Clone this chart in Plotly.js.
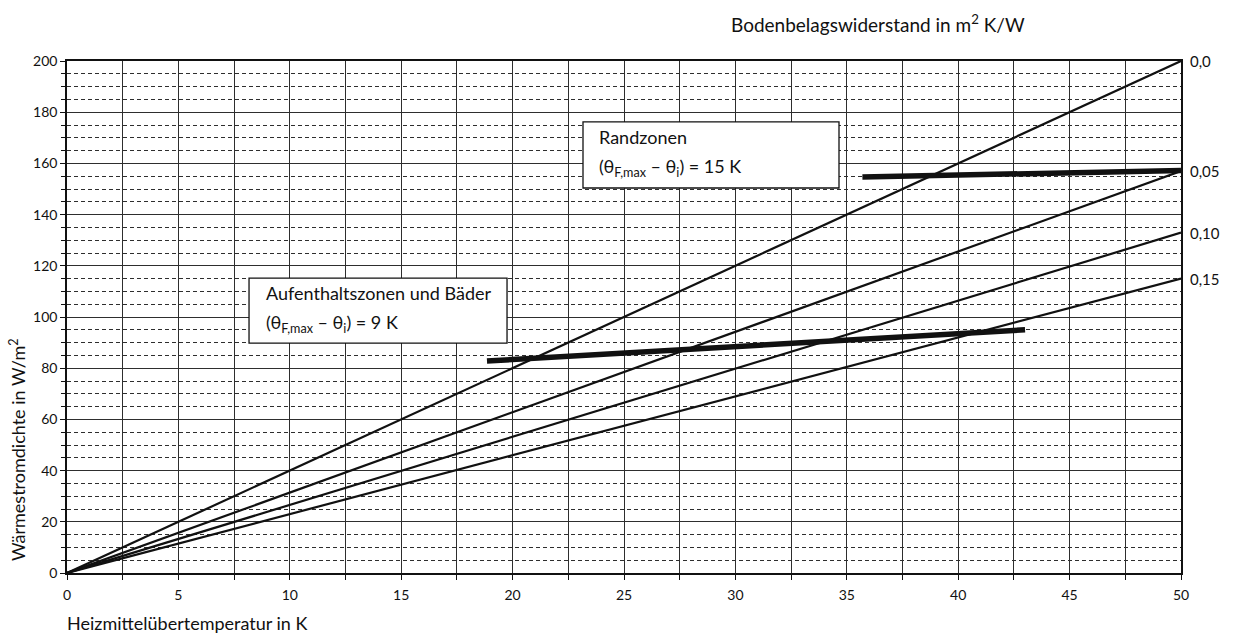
<!DOCTYPE html>
<html>
<head>
<meta charset="utf-8">
<script src="https://cdn.plot.ly/plotly-3.0.1.min.js"></script>
<style>
  html, body { margin: 0; padding: 0; background: #fff; }
  #chart { width: 1234px; height: 638px; }
</style>
</head>
<body>
<div id="chart"></div>
<script>
// Heizmittelübertemperatur (K) – Endpunkte der Kennlinien
const tempX = [0, 50];
// Bodenbelagswiderstand in m² K/W
const resistances = ["0,0", "0,05", "0,10", "0,15"];
// Wärmestromdichte (W/m²) bei 0 K und bei 50 K
const qAt0 = [0, 0, 0, 0];
const qAt50 = [200, 157, 133, 115];

// Grenzkurven
const randX = [35.7, 50];
const randY = [154.7, 157.2];
const aufX = [18.85, 43];
const aufY = [82.8, 95.0];

const FONT = "Lato, 'Open Sans', 'DejaVu Sans', sans-serif";
const INK = "#111";

const traces = resistances.map((r, i) => ({
  type: "scatter",
  mode: "lines",
  x: tempX,
  y: [qAt0[i], qAt50[i]],
  line: { color: INK, width: 2.2 },
  hoverinfo: "skip",
  showlegend: false
}));

traces.push({
  type: "scatter", mode: "lines", x: randX, y: randY,
  line: { color: INK, width: 5.5 }, showlegend: false, hoverinfo: "skip"
});
traces.push({
  type: "scatter", mode: "lines", x: aufX, y: aufY,
  line: { color: INK, width: 5.5 }, showlegend: false, hoverinfo: "skip"
});

const annotations = [];
resistances.forEach((r, i) => {
  annotations.push({
    x: tempX[1], y: qAt50[i], xref: "x", yref: "y",
    text: r, showarrow: false, xanchor: "left", yanchor: "middle", xshift: 7,
    font: { family: FONT, size: 15, color: INK }
  });
});

// Achsentitel
annotations.push({
  xref: "paper", yref: "paper", x: -0.044, y: 0.242,
  text: "Wärmestromdichte in W/m<sup>2</sup>", textangle: -90,
  showarrow: false, xanchor: "center", yanchor: "middle",
  font: { family: FONT, size: 18, color: INK }
});
annotations.push({
  xref: "paper", yref: "paper", x: -0.002, y: -0.098,
  text: "Heizmittelübertemperatur in K",
  showarrow: false, xanchor: "left", yanchor: "middle",
  font: { family: FONT, size: 18, color: INK }
});
annotations.push({
  xref: "paper", yref: "paper", x: 0.594, y: 1.074,
  text: "Bodenbelagswiderstand in m<sup>2</sup> K/W",
  showarrow: false, xanchor: "left", yanchor: "middle",
  font: { family: FONT, size: 19, color: INK }
});

// Beschriftungen in Kästen
annotations.push({
  x: 23.8, y: 170.5, xref: "x", yref: "y", text: "Randzonen",
  showarrow: false, xanchor: "left", yanchor: "middle",
  font: { family: FONT, size: 18, color: INK }
});
annotations.push({
  x: 23.8, y: 158.5, xref: "x", yref: "y",
  text: "(θ<sub>F,max</sub> – θ<sub>i</sub>) = 15 K",
  showarrow: false, xanchor: "left", yanchor: "middle",
  font: { family: FONT, size: 18, color: INK }
});
annotations.push({
  x: 8.85, y: 109.5, xref: "x", yref: "y", text: "Aufenthaltszonen und Bäder",
  showarrow: false, xanchor: "left", yanchor: "middle",
  font: { family: FONT, size: 18, color: INK }
});
annotations.push({
  x: 8.85, y: 97.5, xref: "x", yref: "y",
  text: "(θ<sub>F,max</sub> – θ<sub>i</sub>) = 9 K",
  showarrow: false, xanchor: "left", yanchor: "middle",
  font: { family: FONT, size: 18, color: INK }
});

const shapes = [
  { type: "rect", xref: "x", yref: "y", x0: 23.16, x1: 34.65, y0: 150.4, y1: 176.2,
    fillcolor: "#fff", line: { color: INK, width: 1.3 }, layer: "above" },
  { type: "rect", xref: "x", yref: "y", x0: 8.17, x1: 19.75, y0: 89.8, y1: 115.2,
    fillcolor: "#fff", line: { color: INK, width: 1.3 }, layer: "above" }
];

const GRID = "#2e2e2e";
const layout = {
  width: 1234, height: 638,
  margin: { l: 67, r: 53, t: 61, b: 65, pad: 0 },
  paper_bgcolor: "#fff", plot_bgcolor: "#fff",
  font: { family: FONT, size: 14, color: INK },
  showlegend: false,
  xaxis: {
    range: [0, 50], tick0: 0, dtick: 5, ticks: "outside", ticklen: 5, tickcolor: INK,
    showgrid: true, gridcolor: GRID, gridwidth: 1,
    minor: { dtick: 2.5, ticks: "outside", ticklen: 5, tickcolor: INK,
             showgrid: true, gridcolor: GRID, gridwidth: 1 },
    showline: true, mirror: true, linecolor: INK, linewidth: 1.5,
    zeroline: false, fixedrange: true, ticklabelstandoff: 3,
    tickfont: { family: FONT, size: 14, color: INK }
  },
  yaxis: {
    range: [0, 200], tick0: 0, dtick: 20, ticks: "outside", ticklen: 5, tickcolor: INK,
    showgrid: true, gridcolor: GRID, gridwidth: 1,
    minor: { dtick: 5, ticks: "outside", ticklen: 4, tickcolor: INK,
             showgrid: true, gridcolor: GRID, gridwidth: 1, griddash: "4px,3px" },
    showline: true, mirror: true, linecolor: INK, linewidth: 1.5,
    zeroline: false, fixedrange: true,
    tickfont: { family: FONT, size: 14, color: INK }
  },
  annotations: annotations,
  shapes: shapes
};

Plotly.newPlot("chart", traces, layout, { displayModeBar: false });
</script>
</body>
</html>
